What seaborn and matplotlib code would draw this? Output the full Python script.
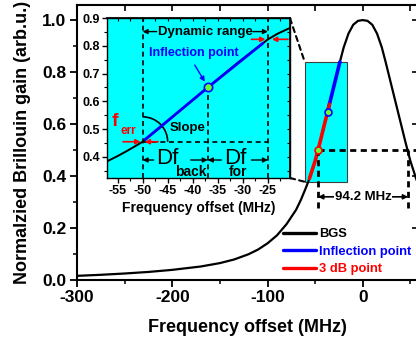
import matplotlib
matplotlib.use("Agg")
import matplotlib.pyplot as plt
import matplotlib.patches as mpatches
import numpy as np
import pandas as pd
import seaborn as sns


# Brillouin gain spectrum (main panel)
bgs_freq = [-300, -275, -250, -225, -200, -170, -150, -135, -120, -110, -100,
            -90, -80, -70, -65, -60, -56, -50, -47, -45, -40, -37, -35, -30,
            -24, -20, -15, -10, -5, 0, 5, 10, 15, 20, 24, 30, 35, 40, 45, 47,
            50, 56, 60]
bgs_gain = [0.016, 0.020, 0.025, 0.031, 0.039, 0.052, 0.065, 0.079, 0.099,
            0.117, 0.141, 0.172, 0.215, 0.270, 0.308, 0.352, 0.390, 0.458,
            0.500, 0.528, 0.602, 0.646, 0.676, 0.750, 0.839, 0.895, 0.948,
            0.982, 0.997, 1.000, 0.997, 0.982, 0.948, 0.895, 0.839, 0.750,
            0.676, 0.602, 0.528, 0.500, 0.458, 0.390, 0.352]

# highlighted stretches of the BGS
blue_band = (-37, -24)
red_band = (-56, -35)

# marked points
inflect_freq, inflect_gain = -37, 0.646
db3_left, db3_right, db3_gain = -47, 47.7, 0.5
fwhm_label = "94.2 MHz"
fwhm_arrow_gain = 0.32
fwhm_dash_bottom = 0.277

# cyan zoom box in the main panel
box_freq = (-61, -17)
box_gain = (0.378, 0.84)

# zoomed slope (inset)
zoom_freq = [-57, -55, -53, -51, -50, -47, -42.5, -37, -31, -25, -23, -20.5]
zoom_gain = [0.384, 0.402, 0.422, 0.443, 0.454, 0.498, 0.567, 0.650, 0.740,
             0.824, 0.845, 0.866]
fit_freq = [-49.5, -37, -26]
fit_gain = [0.462, 0.650, 0.810]

dyn_lo, dyn_hi = -50, -25
dyn_lo_gain, dyn_hi_gain = 0.454, 0.824
inset_inflect_gain = 0.65

CYAN = '#00FFFF'
BLUE = '#0000FF'
RED = '#FF0000'
GREEN = '#66FF33'

sns.set_theme(style="ticks", rc={
    "axes.edgecolor": "black", "text.color": "black",
    "axes.labelcolor": "black", "xtick.color": "black",
    "ytick.color": "black"})
plt.rcParams['font.family'] = ['Liberation Sans', 'DejaVu Sans']
plt.rcParams['font.weight'] = 'bold'
plt.rcParams['axes.labelweight'] = 'bold'
plt.rcParams['axes.unicode_minus'] = False

fig = plt.figure(figsize=(4.16, 3.45), dpi=100)
ax = fig.add_axes([77 / 416, 65 / 345, 341 / 416, 275 / 345])

df = pd.DataFrame({'freq': bgs_freq, 'gain': bgs_gain})
blue_df = df[(df.freq >= blue_band[0]) & (df.freq <= blue_band[1])]
red_df = df[(df.freq >= red_band[0]) & (df.freq <= red_band[1])]

# zoom box
ax.add_patch(mpatches.Rectangle((box_freq[0], box_gain[0]),
                                box_freq[1] - box_freq[0],
                                box_gain[1] - box_gain[0],
                                facecolor=CYAN, edgecolor='#404040',
                                lw=0.8, zorder=1.5))

sns.lineplot(data=df, x='freq', y='gain', color='black', lw=1.6, ax=ax,
             label='BGS', zorder=3)
sns.lineplot(data=blue_df, x='freq', y='gain', color=BLUE, lw=2.6, ax=ax,
             label='Inflection point', zorder=4)
sns.lineplot(data=red_df, x='freq', y='gain', color=RED, lw=2.6, ax=ax,
             label='3 dB point', zorder=4)

# 3 dB width
dash_kw = dict(color='black', lw=2.0, linestyles=(0, (2.2, 1.6)), zorder=5)
ax.hlines(db3_gain, db3_left, 58, **dash_kw)
ax.vlines([db3_left, db3_right], fwhm_dash_bottom, db3_gain, **dash_kw)
ax.annotate('', xy=(db3_left, fwhm_arrow_gain),
            xytext=(db3_right, fwhm_arrow_gain),
            arrowprops=dict(arrowstyle='<|-|>', color='black', lw=1.2,
                            mutation_scale=7, shrinkA=0, shrinkB=0))
ax.text((db3_left + db3_right) / 2, fwhm_arrow_gain, fwhm_label,
        ha='center', va='center', fontsize=9.5, fontweight='bold',
        bbox=dict(facecolor='white', edgecolor='none', pad=0.3))

ax.plot(inflect_freq, inflect_gain, 'o', mfc=GREEN, mec=BLUE, ms=5,
        mew=1.2, zorder=6)
ax.plot(db3_left, db3_gain, 'o', mfc=GREEN, mec=RED, ms=5, mew=1.2,
        zorder=6)

ax.set_xlim(-300, 58)
ax.set_ylim(0, 1.058)
ax.set_xticks([-300, -200, -100, 0])
ax.set_xticks([-250, -150, -50, 50], minor=True)
ax.set_yticks(np.arange(0, 1.01, 0.2))
ax.set_yticks(np.arange(0.1, 1.0, 0.2), minor=True)
ax.tick_params(which='major', direction='out', length=5, width=1.3,
               labelsize=12.5, pad=2.5)
ax.tick_params(which='minor', direction='out', length=3, width=1.1)
for lab in ax.get_xticklabels() + ax.get_yticklabels():
    lab.set_fontweight('bold')
for sp in ax.spines.values():
    sp.set_linewidth(1.5)
ax.set_xlabel('Frequency offset (MHz)', fontsize=13, fontweight='bold',
              labelpad=10)
ax.set_ylabel('Normalzied Brillouin gain (arb.u.)', fontsize=13,
              fontweight='bold', labelpad=8)

# mirrored inward ticks on top/right
top = ax.secondary_xaxis('top')
top.set_xticks([-300, -250, -200, -150, -100, -50, 0, 50])
top.tick_params(direction='in', length=4, width=1.2, labeltop=False)
right = ax.secondary_yaxis('right')
right.set_yticks(np.arange(0, 1.01, 0.2))
right.tick_params(direction='in', length=4, width=1.2, labelright=False)

handles, labels = ax.get_legend_handles_labels()
leg = ax.legend(handles, labels, loc='upper left',
                bbox_to_anchor=(0.603, 0.188), frameon=False,
                handlelength=2.6, handletextpad=0.25,
                labelspacing=0.42, borderpad=0, borderaxespad=0,
                labelcolor='linecolor', prop={'weight': 'bold', 'size': 9.3})
for line in leg.get_lines():
    line.set_linewidth(2.4)

# ---------------- inset ----------------
axi = fig.add_axes([107 / 416, (345 - 178) / 345, 183 / 416, 159.7 / 345])
axi.set_facecolor(CYAN)
zdf = pd.DataFrame({'freq': zoom_freq, 'gain': zoom_gain})
fdf = pd.DataFrame({'freq': fit_freq, 'gain': fit_gain})
sns.lineplot(data=zdf, x='freq', y='gain', color='black', lw=1.4, ax=axi,
             legend=False, zorder=3)
sns.lineplot(data=fdf, x='freq', y='gain', color=BLUE, lw=2.0, ax=axi,
             legend=False, zorder=4)

axi.set_xlim(-57.1, -20.6)
axi.set_ylim(0.323, 0.9)
y0 = axi.get_ylim()[0]
y1 = axi.get_ylim()[1]
idash = dict(color='black', lw=1.2, linestyles=(0, (3, 2.2)), zorder=2)
axi.vlines([dyn_lo, dyn_hi], y0, y1, **idash)
axi.vlines(inflect_freq, y0, inset_inflect_gain, **idash)
axi.hlines(dyn_lo_gain, dyn_lo, dyn_hi, **idash)

axi.plot(inflect_freq, inset_inflect_gain, 'o', mfc=GREEN, mec=BLUE, ms=6,
         mew=1.2, zorder=6)


def arrow(a, x0, x1, y, color='black', ms=7, lw=1.0):
    a.annotate('', xy=(x1, y), xytext=(x0, y),
               arrowprops=dict(arrowstyle='-|>', color=color, lw=lw,
                               mutation_scale=ms, shrinkA=0, shrinkB=0))


# dynamic range
axi.text(-37.4, 0.852, 'Dynamic range', ha='center', va='center',
         fontsize=9.5, fontweight='bold')
arrow(axi, -47.2, dyn_lo, 0.852)
arrow(axi, -28.0, dyn_hi, 0.852)

# inflection point
axi.text(-39.8, 0.776, 'Inflection point', ha='center', va='center',
         fontsize=9, fontweight='bold', color=BLUE)
axi.annotate('', xy=(-37.6, 0.671), xytext=(-39.6, 0.731),
             arrowprops=dict(arrowstyle='-|>', color=BLUE, lw=1.0,
                             mutation_scale=7, shrinkA=0, shrinkB=0))

# frequency error arrows
arrow(axi, -53.9, -50.4, dyn_lo_gain, color=RED, lw=1.2)
arrow(axi, -46.9, -49.6, dyn_lo_gain, color=RED, lw=1.2)
arrow(axi, -28.3, -25.5, dyn_hi_gain, color=RED, lw=1.2)
arrow(axi, -21.0, -24.2, dyn_hi_gain, color=RED, lw=1.2)
axi.text(-55.6, 0.527, 'f', ha='center', va='center', fontsize=14,
         fontweight='bold', color=RED)
axi.text(-52.8, 0.494, 'err', ha='center', va='center', fontsize=8.5,
         fontweight='bold', color=RED)

# slope
axi.text(-41.0, 0.503, 'Slope', ha='center', va='center', fontsize=9.5,
         fontweight='bold')
axi.add_patch(mpatches.Arc((dyn_lo, dyn_lo_gain), 10, 0.18, theta1=0,
                           theta2=38, lw=1.2, color='black'))

# Df back / for
df_gain = 0.388
axi.text(-45.1, 0.394, 'Df', ha='center', va='center', fontsize=16,
         fontweight='normal')
axi.text(-40.4, 0.345, 'back', ha='center', va='center', fontsize=10,
         fontweight='bold')
axi.text(-31.5, 0.394, 'Df', ha='center', va='center', fontsize=16,
         fontweight='normal')
axi.text(-31.0, 0.345, 'for', ha='center', va='center', fontsize=10,
         fontweight='bold')
arrow(axi, -47.8, dyn_lo, df_gain)
arrow(axi, -40.4, inflect_freq, df_gain)
arrow(axi, -34.3, inflect_freq, df_gain)
arrow(axi, -28.3, dyn_hi, df_gain)

axi.set_xticks(np.arange(-55, -24, 5))
axi.set_xticks(np.arange(-55, -20, 2.5), minor=True)
axi.set_yticks(np.arange(0.4, 0.91, 0.1))
axi.set_yticks(np.arange(0.35, 0.91, 0.05), minor=True)
axi.tick_params(which='major', direction='out', length=3.5, width=1.0,
                labelsize=9, pad=1.5)
axi.tick_params(which='minor', direction='out', length=2, width=0.8)
for lab in axi.get_xticklabels() + axi.get_yticklabels():
    lab.set_fontweight('bold')
for sp in axi.spines.values():
    sp.set_linewidth(1.0)
axi.set_xlabel('Frequency offset (MHz)', fontsize=10, fontweight='bold',
               labelpad=3)
axi.set_ylabel('')

itop = axi.secondary_xaxis('top')
itop.set_xticks(np.arange(-55, -20, 2.5))
itop.tick_params(direction='in', length=2.5, width=0.8, labeltop=False)
iright = axi.secondary_yaxis('right')
iright.set_yticks(np.arange(0.35, 0.91, 0.05))
iright.tick_params(direction='in', length=2.5, width=0.8, labelright=False)

# dashed connectors from inset to zoom box
for ya, yb in [(1, box_gain[1]), (0, box_gain[0])]:
    con = mpatches.ConnectionPatch(xyA=(1, ya), coordsA=axi.transAxes,
                                   xyB=(box_freq[0], yb),
                                   coordsB=ax.transData,
                                   ls=(0, (2.5, 2)), lw=1.5, color='black')
    fig.add_artist(con)

fig.savefig('out.png', dpi=100)
